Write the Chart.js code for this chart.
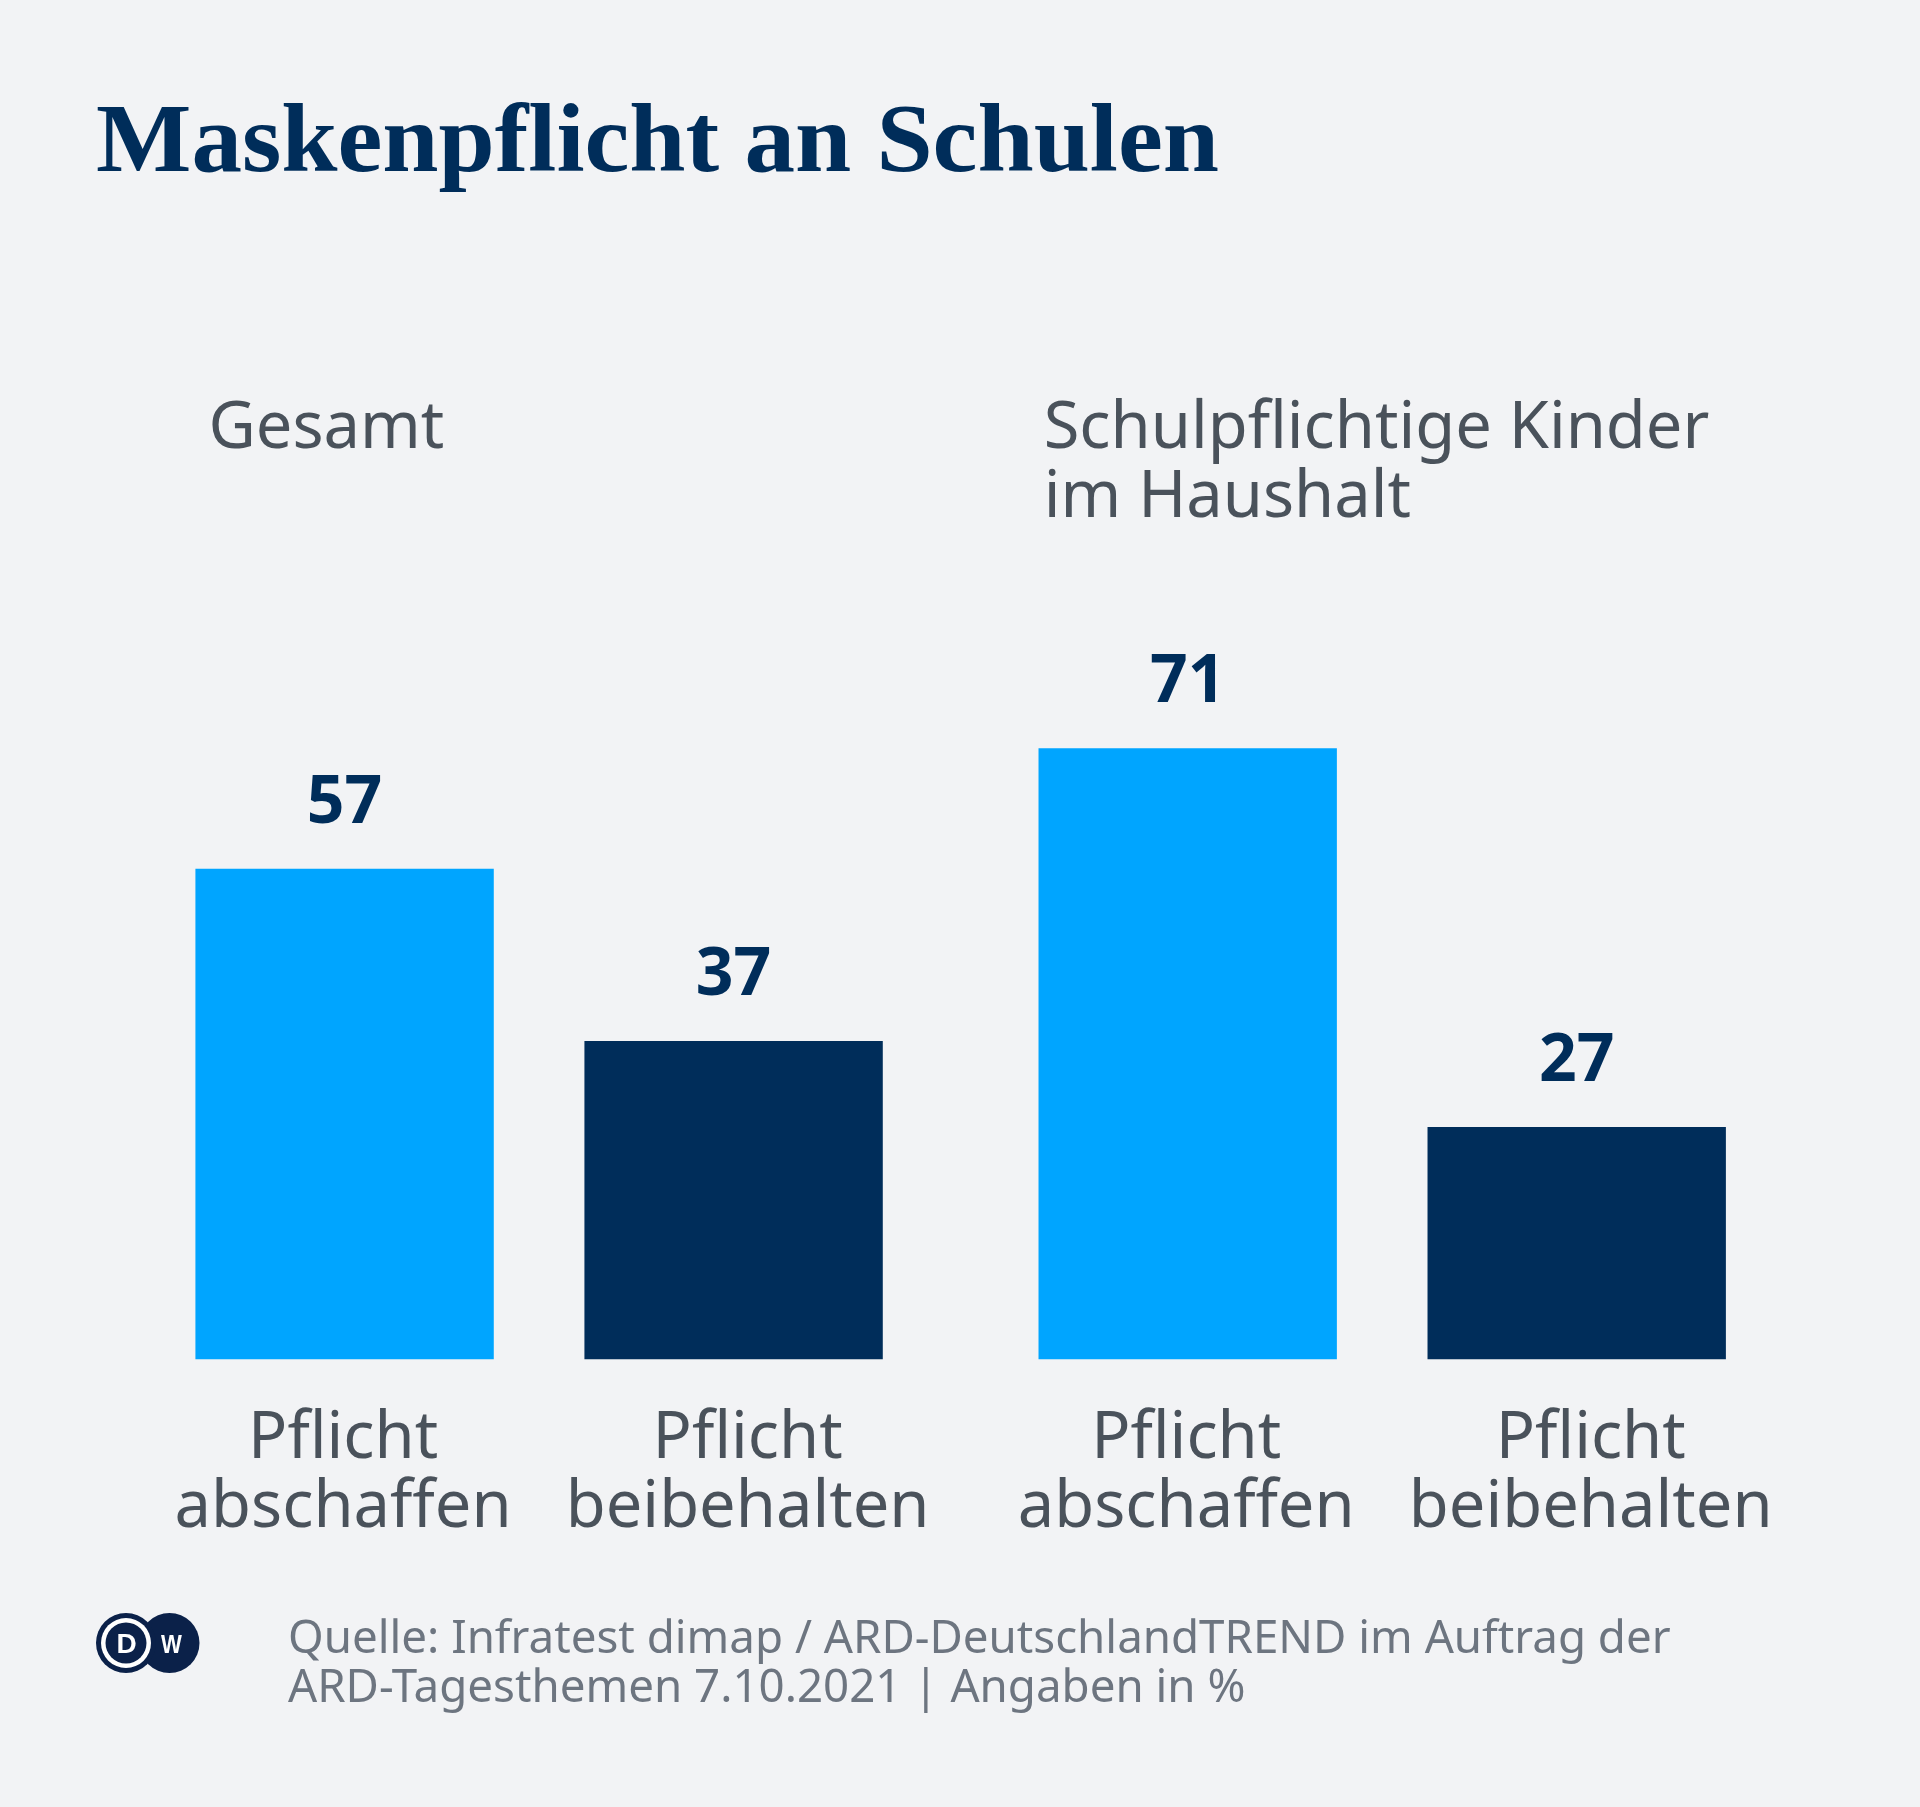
<!DOCTYPE html>
<html lang="de">
<head>
<meta charset="utf-8">
<script src="https://cdn.jsdelivr.net/npm/chart.js@4"></script>
<style>
  html, body { margin: 0; padding: 0; background: #f2f3f5; }
  body { width: 1920px; height: 1807px; position: relative; overflow: hidden; font-family: "Noto Sans", sans-serif; }
  #chart { position: absolute; left: 0; top: 0; }
  #title { position: absolute; left: 95.5px; top: 89.5px; margin: 0; font-family: "Liberation Serif", serif; font-weight: 700; font-size: 97px; line-height: 97px; color: #002d5a; white-space: nowrap; transform-origin: 0 0; }
  .grp { position: absolute; font-size: 65px; line-height: 69.3px; color: #4a525b; white-space: nowrap; }
  #footer { position: absolute; left: 288px; top: 1611.3px; font-size: 45.7px; line-height: 48.4px; color: #6d7580; white-space: nowrap; }
  #logo { position: absolute; left: 96px; top: 1612.7px; }
</style>
</head>
<body>
<h1 id="title">Maskenpflicht an Schulen</h1>
<div id="groups"></div>
<canvas id="chart" width="1920" height="1807"></canvas>
<svg id="logo" width="104" height="60" viewBox="0 0 104 60">
  <circle cx="73.5" cy="30" r="30" fill="#0b2149"/>
  <circle cx="30" cy="30" r="30" fill="#0b2149"/>
  <circle cx="30" cy="30" r="25" fill="#ffffff"/>
  <circle cx="30" cy="30" r="20.5" fill="#0b2149"/>
  <text x="30.5" y="40" text-anchor="middle" font-family="Liberation Sans, Arial, sans-serif" font-weight="700" font-size="28" fill="#ffffff">D</text>
  <text x="75.5" y="40" text-anchor="middle" font-family="Liberation Sans, Arial, sans-serif" font-weight="700" font-size="26" fill="#ffffff" transform="translate(75.5 0) scale(0.85 1) translate(-75.5 0)">W</text>
</svg>
<div id="footer">Quelle: Infratest dimap / ARD-DeutschlandTREND im Auftrag der<br>ARD-Tagesthemen 7.10.2021 | Angaben in %</div>
<script>
// ---- data ----
const groupLabels = ["Gesamt", "Schulpflichtige Kinder im Haushalt"];
const groupHeaderLines = [["Gesamt"], ["Schulpflichtige Kinder", "im Haushalt"]];
const seriesNames = ["Pflicht abschaffen", "Pflicht beibehalten"];
const seriesLabelLines = [["Pflicht", "abschaffen"], ["Pflicht", "beibehalten"]];
const abschaffen = [57, 71];
const beibehalten = [37, 27];

// ---- styles ----
const colors = ["#00a5ff", "#002d5a"];
const headerLeft = [208.5, 1043.7];
const headerTop = 389.1;
const seriesLabelShift = [-1.5, 14];

// group headers (HTML text)
const gwrap = document.getElementById('groups');
groupHeaderLines.forEach((lines, i) => {
  const d = document.createElement('div');
  d.className = 'grp';
  d.style.left = headerLeft[i] + 'px';
  d.style.top = headerTop + 'px';
  d.innerHTML = lines.join('<br>');
  gwrap.appendChild(d);
});

// fit title width
(function(){
  const t = document.getElementById('title');
  const w = t.getBoundingClientRect().width;
  const target = 1123;
  t.style.transform = 'scaleX(' + (target / w) + ')';
})();

const labelPlugin = {
  id: 'barLabels',
  afterDatasetsDraw(chart) {
    const ctx = chart.ctx;
    ctx.save();
    ctx.textAlign = 'center';
    ctx.textBaseline = 'alphabetic';
    chart.data.datasets.forEach((ds, di) => {
      const meta = chart.getDatasetMeta(di);
      meta.data.forEach((bar, i) => {
        // value label
        ctx.font = '700 66px "Noto Sans"';
        ctx.fillStyle = '#002d5a';
        ctx.fillText(String(ds.data[i]), bar.x, bar.y - 46);
        // series label under the bar
        ctx.font = '400 65px "Noto Sans"';
        ctx.fillStyle = '#4a525b';
        const lines = seriesLabelLines[di];
        lines.forEach((ln, li) => {
          ctx.fillText(ln, bar.x + seriesLabelShift[di], bar.base + 98.2 + li * 69.6);
        });
      });
    });
    ctx.restore();
  }
};

new Chart(document.getElementById('chart'), {
  type: 'bar',
  data: {
    labels: groupLabels,
    datasets: [
      { label: seriesNames[0], data: abschaffen, backgroundColor: colors[0] },
      { label: seriesNames[1], data: beibehalten, backgroundColor: colors[1] }
    ]
  },
  options: {
    responsive: false,
    animation: false,
    devicePixelRatio: 1,
    datasets: { bar: { categoryPercentage: 0.9228, barPercentage: 0.767, borderWidth: 0 } },
    layout: { padding: { left: 117.55, right: 116.25, top: 670.9, bottom: 447.5 } },
    scales: {
      x: { display: false, grid: { display: false } },
      y: { display: false, min: 0, max: 80, grid: { display: false } }
    },
    plugins: { legend: { display: false }, tooltip: { enabled: false } }
  },
  plugins: [labelPlugin]
});
</script>
</body>
</html>
